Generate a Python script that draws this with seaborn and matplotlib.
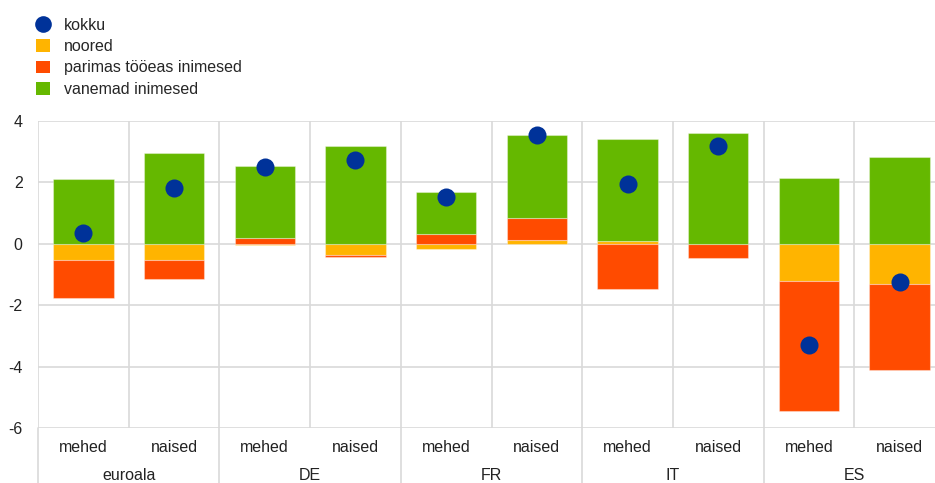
import numpy as np
import pandas as pd
import matplotlib
matplotlib.use("Agg")
import matplotlib.pyplot as plt
import seaborn as sns
from matplotlib.lines import Line2D
from matplotlib.patches import Patch
import matplotlib.transforms as mtransforms

countries = ["euroala", "DE", "FR", "IT", "ES"]
sexes = ["mehed", "naised"]
noored   = [-0.54, -0.52, -0.05, -0.37, -0.18, 0.11, 0.10, -0.02, -1.22, -1.32]
parimas  = [-1.23, -0.64, 0.20, -0.05, 0.31, 0.74, -1.47, -0.43, -4.22, -2.80]
vanemad  = [2.12, 2.96, 2.35, 3.17, 1.38, 2.70, 3.30, 3.62, 2.13, 2.83]
kokku    = [0.36, 1.81, 2.50, 2.74, 1.53, 3.55, 1.95, 3.18, -3.29, -1.26]
series_names = ["noored", "parimas tööeas inimesed", "vanemad inimesed"]
total_name = "kokku"
yticks = [4, 2, 0, -2, -4, -6]

colors = {"noored": "#ffb400", "parimas tööeas inimesed": "#ff4b00",
          "vanemad inimesed": "#65b800", "kokku": "#003299"}

cats = [f"{c} {s}" for c in countries for s in sexes]
df = pd.DataFrame({"cat": cats, "noored": noored, "parimas": parimas,
                   "vanemad": vanemad, "kokku": kokku})

sns.set_theme(style="white")
plt.rcParams["font.family"] = ["Liberation Sans", "DejaVu Sans"]
fs = 11.5

fig = plt.figure(figsize=(9.35, 4.83), dpi=100)
ax = fig.add_axes([38/935, (483-428)/483, 907/935, (428-121)/483])

# stacking: positives and negatives separately
pos_base = np.zeros(len(cats))
neg_base = np.zeros(len(cats))
for col, name in zip(["noored", "parimas", "vanemad"], series_names):
    vals = df[col].to_numpy()
    bottoms = np.where(vals >= 0, pos_base, neg_base)
    sns.barplot(data=df, x="cat", y=col, order=cats, color=colors[name],
                saturation=1, width=0.665, bottom=bottoms, ax=ax,
                edgecolor=(1, 1, 1, 0.35), linewidth=0.8, zorder=2)
    pos_base = pos_base + np.where(vals >= 0, vals, 0)
    neg_base = neg_base + np.where(vals < 0, vals, 0)

sns.stripplot(data=df, x="cat", y="kokku", order=cats, color=colors["kokku"],
              jitter=False, size=13, linewidth=0, ax=ax, zorder=4)

gridc = "#d9d9d9"
ax.set_xlim(-0.5, len(cats) - 0.5)
ax.set_ylim(-6, 4)
ax.set_yticks(yticks)
ax.set_yticklabels([str(t) for t in yticks], fontsize=fs, color="#222222")
ax.tick_params(axis="y", length=0, pad=11)
ax.set_xticks([])
ax.set_xlabel("")
ax.set_ylabel("")
for s in ax.spines.values():
    s.set_visible(False)
for t in yticks:
    ax.axhline(t, color=gridc, lw=1.2, zorder=0)
for i in range(len(cats) + 1):
    ax.axvline(i - 0.5, color=gridc, lw=1.2, zorder=0)

# multi-level labels
trans = mtransforms.blended_transform_factory(ax.transData, fig.transFigure)
for i, c in enumerate(cats):
    ax.text(i, 1 - 447/483, sexes[i % 2], transform=trans, ha="center",
            va="center", fontsize=fs, color="#222222")
for j, c in enumerate(countries):
    ax.text(2*j + 0.5, 1 - 476/483, c, transform=trans, ha="center",
            va="center", fontsize=fs, color="#222222")
for j in range(len(countries) + 1):
    ax.plot([2*j - 0.5, 2*j - 0.5], [1 - 428/483, 0], transform=trans,
            color=gridc, lw=1.2, clip_on=False, zorder=0)

handles = [Line2D([0], [0], marker="o", color="none", markerfacecolor=colors["kokku"],
                  markeredgecolor="none", markersize=12)]
handles += [Patch(facecolor=colors[n], edgecolor="none") for n in series_names]
labels = [total_name] + series_names
fig.legend(handles, labels, loc="upper left", bbox_to_anchor=(36/935, 1 - 18/483),
           frameon=False, fontsize=fs, handlelength=0.85, handleheight=0.85,
           handletextpad=0.9, labelspacing=0.39, borderpad=0, borderaxespad=0)

fig.savefig("out.png", dpi=100)
